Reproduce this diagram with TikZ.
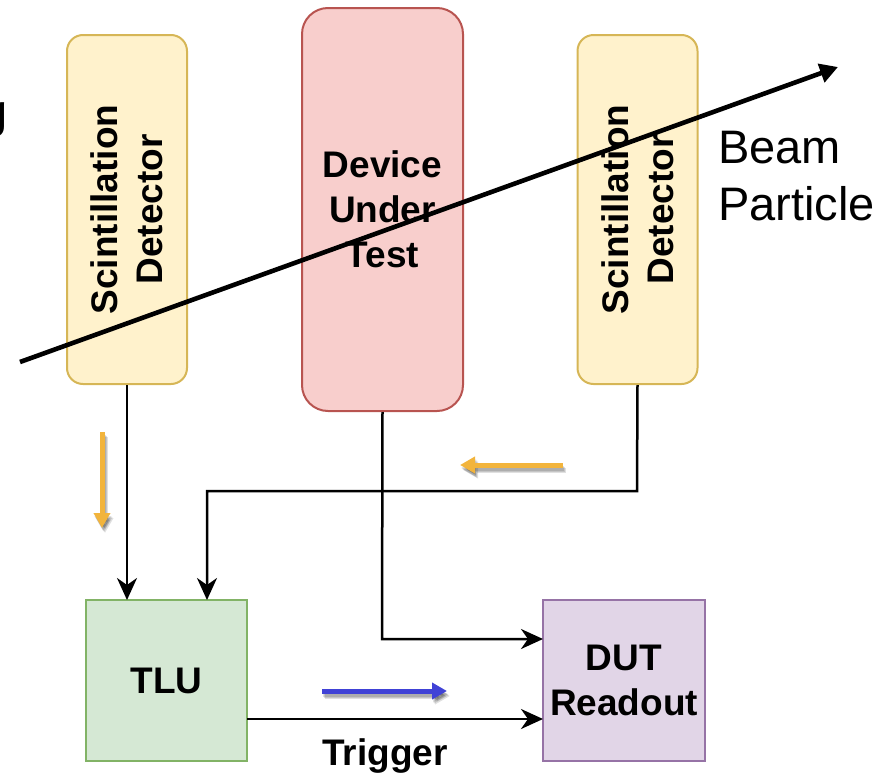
\documentclass[tikz,border=0pt]{standalone}
\usepackage{fontspec}
\setmainfont{Liberation Sans}
\usetikzlibrary{arrows.meta}

\definecolor{scfill}{HTML}{FFF2CC}
\definecolor{scdraw}{HTML}{D6B656}
\definecolor{dutfill}{HTML}{F8CECC}
\definecolor{dutdraw}{HTML}{B85450}
\definecolor{tlufill}{HTML}{D5E8D4}
\definecolor{tludraw}{HTML}{82B366}
\definecolor{rofill}{HTML}{E1D5E7}
\definecolor{rodraw}{HTML}{9673A6}
\definecolor{flowor}{HTML}{F2B43C}
\definecolor{flowbl}{HTML}{4042D6}

\tikzset{
  boldlbl/.style={font=\fontsize{37}{45}\selectfont\bfseries, align=center},
  plainlbl/.style={font=\fontsize{47}{56}\selectfont},
  scintbox/.style={draw=scdraw, fill=scfill, line width=2pt, rounded corners=16pt,
    rotate=90, minimum width=349pt, minimum height=120pt, inner sep=0pt, boldlbl},
  dutbox/.style={draw=dutdraw, fill=dutfill, line width=2pt, rounded corners=26pt,
    minimum width=161pt, minimum height=403pt, inner sep=0pt, boldlbl},
  blockbox/.style={line width=2pt, minimum width=161pt, minimum height=161pt,
    inner sep=0pt, boldlbl},
  wire/.style={draw=black, line width=2.5pt,
    -{Stealth[length=22pt, width=20pt, inset=7pt]}},
  beam/.style={draw=black, line width=4.6pt,
    -{Triangle[length=18pt, width=19pt]}},
  flow/.style={line width=5pt, -{Triangle[length=15pt, width=16pt]}},
  flowshade/.style={flow, draw=black, opacity=0.12},
}

\begin{document}
\begin{tikzpicture}[x=1pt, y=-1pt]
\useasboundingbox (0,0) rectangle (881,774);

% detectors and device
\node[scintbox] (scL) at (127,209.5) {Scintillation\\Detector};
\node[dutbox]   (dut) at (382.5,209.5) {Device\\Under\\Test};
\node[scintbox] (scR) at (637.5,209.5) {Scintillation\\Detector};

% readout chain
\node[blockbox, draw=tludraw, fill=tlufill] (tlu) at (166.5,680.5) {TLU};
\node[blockbox, draw=rodraw, fill=rofill, minimum width=162pt] (ro) at (624,680.5) {DUT\\Readout};

% signal wiring
\coordinate (tluL) at (127,600);
\coordinate (tluR) at (207,600);
\coordinate (roT) at (543,639);
\coordinate (roB) at (543,719);
\coordinate (tluOut) at (247,719);
\draw[wire] (scL.west) -- (tluL);
\draw[wire] (scR.west) -- (637,491) -- (207,491) -- (tluR);
\draw[wire] (dut.south) -- (382,639) -- (roT);
\draw[wire] (tluOut) -- (roB);
\node[boldlbl, anchor=base] (trig) at (385,765) {Trigger};

% signal direction hints, each with a soft drop shadow
\coordinate (o1a) at (102,432); \coordinate (o1b) at (102,528);
\coordinate (o2a) at (563,465); \coordinate (o2b) at (460,465);
\coordinate (b1a) at (322,691); \coordinate (b1b) at (447,691);
\foreach \dx/\dy in {1/3, 2/4, 3/5}{
  \draw[flowshade] ([shift={(\dx,\dy)}]o1a) -- ([shift={(\dx,\dy)}]o1b);
  \draw[flowshade] ([shift={(\dx,\dy)}]o2a) -- ([shift={(\dx,\dy)}]o2b);
  \draw[flowshade] ([shift={(\dx,\dy)}]b1a) -- ([shift={(\dx,\dy)}]b1b);
}
\draw[flow, draw=flowor] (o1a) -- (o1b);
\draw[flow, draw=flowor] (o2a) -- (o2b);
\draw[flow, draw=flowbl] (b1a) -- (b1b);

% beam particle track
\coordinate (bmA) at (20,362);
\coordinate (bmB) at (838,67);
\draw[beam] (bmA) -- (bmB);
\node[plainlbl, anchor=base west, inner sep=0pt] (beamT) at (718,163) {Beam};
\node[plainlbl, anchor=base west, inner sep=0pt] (partT) at (718,220) {Particle};

% text running off the left edge
\node[plainlbl, anchor=base east, inner sep=0pt] (edge) at (8,127) {g};
\end{tikzpicture}
\end{document}
